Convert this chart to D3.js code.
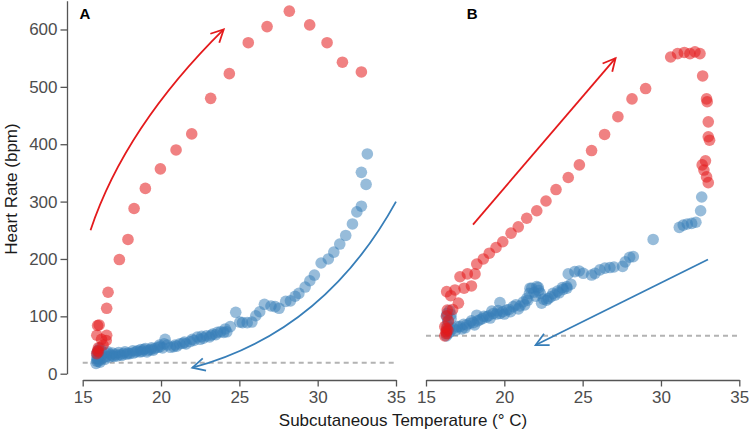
<!DOCTYPE html>
<html><head><meta charset="utf-8">
<script src="https://cdn.jsdelivr.net/npm/d3@7"></script>
<style>
body{margin:0;background:#fff;}
svg{display:block;font-family:"Liberation Sans",Arial,sans-serif;}
</style></head>
<body>
<svg id="chart" width="749" height="435"></svg>
<script>
// ---------- data ----------
const xTicks = [15, 20, 25, 30, 35];
const yTicks = [0, 100, 200, 300, 400, 500, 600];
const panelLabels = ["A", "B"];
const xTitle = "Subcutaneous Temperature (\u00B0 C)";
const yTitle = "Heart Rate (bpm)";

// Panel A – cooling (blue) [temp, bpm]
const aCooling = [
 [15.85,18],[15.9,22],[15.95,26],[16.0,30],[15.9,35],[16.0,41],[16.1,45],[15.95,38],[16.2,32],[16.3,28],
 [16.4,25],[16.1,20],[16.0,22],[16.1,25],[15.9,28],[16.2,40],[16.5,30],[16.5,36],[16.6,38],[16.7,29],
 [16.8,33],[16.9,31],[16.9,36],[17.0,30],[17.1,34],[17.2,31],[17.3,37],[17.38,33],[17.5,32],[17.6,35],
 [17.7,38],[17.8,34],[17.9,36],[18.0,35],[18.2,40],[18.23,36],[18.4,38],[18.5,40],[18.66,38],[18.7,42],
 [18.8,39],[18.9,42],[19.0,44],[19.1,38],[19.2,41],[19.35,42],[19.4,45],[19.5,41],[19.6,44],[19.8,46],
 [19.9,50],[19.94,47],[20.1,45],[20.2,52],[20.26,60],[20.4,50],[20.6,46],[20.8,47],[20.9,50],[21.0,48],
 [21.2,52],[21.4,53],[21.5,55],[21.6,52],[21.85,56],[22.0,60],[22.1,58],[22.32,64],[22.5,60],[22.6,65],
 [22.7,62],[22.9,66],[23.1,64],[23.2,67],[23.3,69],[23.5,68],[23.6,72],[23.8,73],[24.0,72],[24.1,78],
 [24.2,73],[24.42,82],[24.77,107],[25.03,90],[25.2,89],[25.5,89],[25.8,90],[26.05,101],[26.3,108],[26.6,121],
 [27.02,118],[27.28,117],[27.54,114],[27.96,126],[28.26,127],[28.56,135],[28.8,140],[29.2,151],[29.5,162],[29.79,172],
 [30.22,193],[30.68,200],[31.03,212],[31.41,226],[31.79,241],[32.22,261],[32.5,282],[32.79,292],[33.09,330],[32.79,351],
 [33.17,383]
];
// Panel A – warming (red)
const aWarming = [
 [15.9,35],[16.0,38],[15.95,40],[16.0,45],[16.3,50],[16.5,58],[16.2,60],[15.9,67],[16.53,67],[15.95,84],
 [16.05,85],[16.53,114],[16.62,142],[17.34,199],[17.89,234],[18.28,288],[19.0,323],[19.96,357],[20.96,390],[21.96,418],
 [23.17,480],[24.36,523],[25.57,577],[26.77,605],[28.19,632],[29.49,608],[30.6,577],[31.58,543],[32.79,526]
];
// Panel B – cooling (blue)
const bCooling = [
 [16.3,66],[16.4,70],[16.3,75],[16.5,80],[16.35,85],[16.4,92],[16.3,100],[16.35,105],[16.6,103],[16.5,110],
 [16.6,96],[16.53,73],[16.75,79],[16.9,76],[17.0,82],[17.17,82],[17.3,78],[17.4,86],[17.5,80],[17.6,85],
 [17.8,88],[17.9,92],[18.02,89],[18.1,85],[18.24,102],[18.3,92],[18.45,94],[18.6,96],[18.7,100],[18.87,99],
 [19.0,101],[19.1,97],[19.2,109],[19.3,105],[19.5,104],[19.6,110],[19.72,124],[19.72,105],[19.9,108],[20.0,104],
 [20.15,111],[20.3,112],[20.4,108],[20.57,117],[20.74,120],[20.9,113],[21.0,118],[21.2,125],[21.3,120],[21.43,131],
 [21.5,128],[21.6,140],[21.64,149],[21.75,149],[21.9,142],[22.0,135],[22.07,152],[22.17,150],[22.2,145],[22.3,140],
 [22.38,123],[22.5,130],[22.7,128],[22.8,131],[22.96,134],[23.1,140],[23.23,137],[23.4,144],[23.5,141],[23.7,150],
 [23.76,147],[23.98,152],[24.0,149],[24.25,156],[24.08,174],[24.5,178],[24.78,179],[25.04,175],[25.57,172],[25.79,175],
 [26.1,181],[26.42,184],[26.74,185],[27.0,186],[27.55,187],[27.72,195],[28.0,203],[28.23,204],[29.5,234],[31.17,255],
 [31.42,259],[31.68,261],[31.96,262],[32.23,264],[32.53,284],[32.6,308]
];
// Panel B – warming (red)
const bWarming = [
 [16.2,66],[16.3,70],[16.28,73],[16.4,76],[16.32,79],[16.2,82],[16.43,92],[16.32,101],[16.36,111],[16.7,112],
 [17.07,123],[16.58,136],[16.32,143],[16.85,146],[17.43,149],[17.9,153],[17.17,169],[17.64,174],[18.13,174],[18.24,191],
 [18.66,200],[19.04,210],[19.47,220],[19.9,230],[20.43,245],[20.89,256],[21.43,271],[22.07,284],[22.66,301],[23.3,321],
 [24.08,342],[24.79,364],[25.57,389],[26.4,417],[27.25,448],[28.15,479],[29.02,497],[30.62,552],[31.06,558],[31.49,560],
 [31.85,558],[32.17,561],[32.49,558],[32.66,519],[32.91,479],[32.95,474],[33.02,439],[33.02,413],[33.1,407],[32.84,371],
 [32.63,364],[32.74,355],[32.91,343],[33.02,333]
];
// resting heart-rate reference lines
const restingHR = [19, 66];
// arrows: [start, control|null, end] in data units
const aWarmArrow = [[15.5,250],[17.7,430],[24.0,600]];
const aCoolArrow = [[35,300],[30.4,72],[22.0,10.5]];
const bWarmArrow = [[18.0,260],null,[27.1,550]];
const bCoolArrow = [[33.0,199],null,[22.0,50]];

// ---------- drawing ----------
const RED = "#e41a1c", BLUE = "#377eb8";
const svg = d3.select("#chart");
const y = d3.scaleLinear().domain([0, 650]).range([373.7, 0.8]);
const xA = d3.scaleLinear().domain([15, 35]).range([82.7, 396]);
const xB = d3.scaleLinear().domain([15, 35]).range([426, 739.3]);

function styleAxis(g){
  g.selectAll("path.domain").attr("stroke","#555").attr("stroke-width",1.3);
  g.selectAll(".tick line").attr("stroke","#555").attr("stroke-width",1.3);
  g.selectAll(".tick text").attr("fill","#4d4d4d").style("font-size","17px")
   .style("font-family","'Liberation Sans',Arial,sans-serif");
}

// Y axis (panel A only)
svg.append("g").attr("transform","translate(67,0)")
  .call(d3.axisLeft(y).tickValues(yTicks).tickSize(6.5).tickSizeOuter(0).tickPadding(3))
  .call(styleAxis);

function panel(x, cooling, warming, hr, warmArrow, coolArrow, label, labelX){
  const g = svg.append("g");
  g.append("g").attr("transform","translate(0,380)")
    .call(d3.axisBottom(x).tickValues(xTicks).tickSize(6.5).tickSizeOuter(0).tickPadding(4))
    .call(styleAxis);
  // dashed resting line
  g.append("line").attr("x1",x(15)).attr("x2",x(35)).attr("y1",y(hr)).attr("y2",y(hr))
    .attr("stroke","#b3b3b3").attr("stroke-width",2).attr("stroke-dasharray","5,4");
  // points
  g.selectAll("circle.c").data(cooling).join("circle").attr("class","c")
    .attr("cx",d=>x(d[0])).attr("cy",d=>y(d[1])).attr("r",5.8)
    .attr("fill",BLUE).attr("fill-opacity",0.52);
  g.selectAll("circle.w").data(warming).join("circle").attr("class","w")
    .attr("cx",d=>x(d[0])).attr("cy",d=>y(d[1])).attr("r",5.8)
    .attr("fill",RED).attr("fill-opacity",0.55);
  // arrows
  function arrow(spec, color){
    const [s,c,e] = spec;
    const p = d3.path();
    const sx=x(s[0]), sy=y(s[1]), ex=x(e[0]), ey=y(e[1]);
    let dx, dy;
    p.moveTo(sx,sy);
    if(c){ const cx=x(c[0]), cy=y(c[1]); p.quadraticCurveTo(cx,cy,ex,ey); dx=ex-cx; dy=ey-cy; }
    else { p.lineTo(ex,ey); dx=ex-sx; dy=ey-sy; }
    g.append("path").attr("d",p.toString()).attr("fill","none").attr("stroke",color).attr("stroke-width",1.8);
    const ang = Math.atan2(dy,dx), L=14, a=0.47;
    const h = d3.path();
    h.moveTo(ex-L*Math.cos(ang-a), ey-L*Math.sin(ang-a));
    h.lineTo(ex,ey);
    h.lineTo(ex-L*Math.cos(ang+a), ey-L*Math.sin(ang+a));
    g.append("path").attr("d",h.toString()).attr("fill","none").attr("stroke",color).attr("stroke-width",1.8);
  }
  arrow(warmArrow, RED);
  arrow(coolArrow, BLUE);
  g.append("text").attr("x",x(labelX)).attr("y",18.5).text(label)
    .attr("font-weight","bold").style("font-size","15px").attr("fill","#000");
}
panel(xA, aCooling, aWarming, restingHR[0], aWarmArrow, aCoolArrow, panelLabels[0], 14.8);
panel(xB, bCooling, bWarming, restingHR[1], bWarmArrow, bCoolArrow, panelLabels[1], 17.6);

// titles
svg.append("text").attr("x",403).attr("y",426).attr("text-anchor","middle")
  .style("font-size","17px").attr("fill","#1a1a1a").text(xTitle);
svg.append("text").attr("transform","translate(17,189) rotate(-90)").attr("text-anchor","middle")
  .style("font-size","17px").attr("fill","#1a1a1a").text(yTitle);
</script>
</body></html>
